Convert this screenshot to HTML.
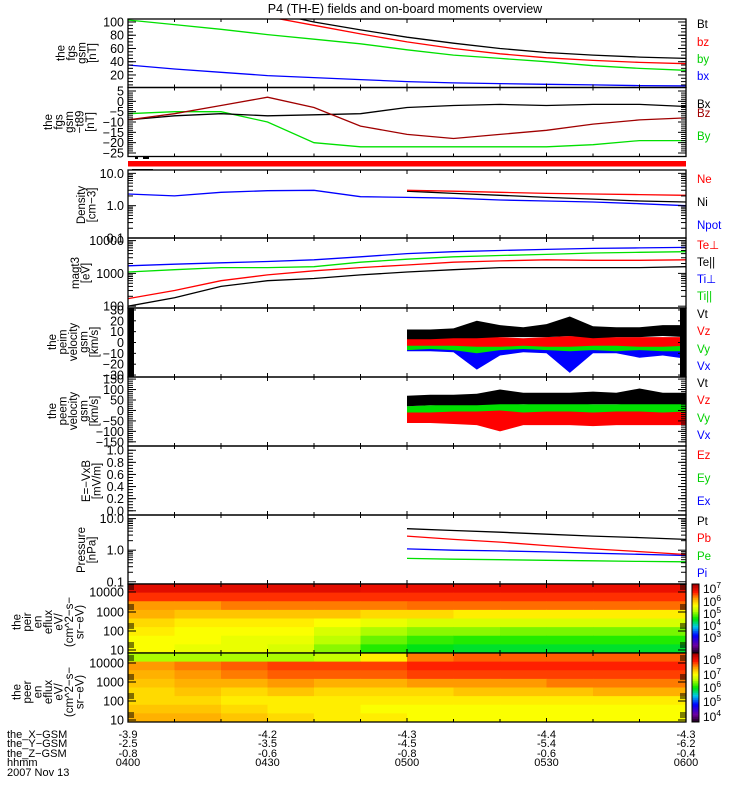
<!DOCTYPE html>
<html><head><meta charset="utf-8"><style>
html,body{margin:0;padding:0;background:#fff;}
svg{display:block;font-family:"Liberation Sans",sans-serif;}
</style></head><body>
<svg id="c" width="750" height="800" viewBox="0 0 750 800">
<rect width="750" height="800" fill="#fff"/>
<text x="405" y="13" font-size="12.5" text-anchor="middle">P4 (TH-E) fields and on-board moments overview</text>
</svg>
<script>
// ---------- data ----------
const times = [0,10,20,30,40,50,60,70,80,90,100,110,120];
const fgsBt = [170,150,130,115,100,88,77,68,60,54,50,47,45];
const fgsBz = [160,140,122,108,95,82,70,60,52,46,42,39,37];
const fgsBy = [103,96,89,81,74,67,58,50,45,40,34,30,27];
const fgsBx = [35,29,24,19,16,13,10,8,7,6,5,4,3.5];
const dBx = [-9,-7,-6,-7,-6.5,-6,-3,-2,-1.5,-2,-1.5,-1.5,-2.5];
const dBz = [-9,-6,-2,2,-3,-12,-16,-18,-16,-14,-11,-9,-8];
const dBy = [-6,-5,-5,-10,-20,-22,-22,-22,-22,-22,-21,-19,-19];
const Npot = [2.3,2.0,2.6,2.9,3.0,1.9,1.8,1.7,1.5,1.4,1.3,1.15,1.0];
const tLate = [60,70,80,90,100,110,120];
const Ne = [3.0,2.8,2.6,2.4,2.3,2.2,2.1];
const Ni = [2.8,2.4,2.1,1.8,1.6,1.4,1.3];
const TiPerp = [1700,1900,2100,2300,2600,3200,4000,4600,5000,5400,5800,6000,6200];
const TiPar = [1100,1300,1500,1500,1600,2200,2700,3200,3500,3800,4200,4400,4600];
const TePerp = [170,300,600,900,1200,1500,1800,2200,2400,2600,2500,2500,2600];
const TePar = [100,180,400,600,700,900,1100,1300,1500,1500,1500,1500,1600];
const tVel = [60,65,70,75,80,85,90,95,100,105,110,115,120];
const iVtLo = [3,3,4,4,5,5,5,6,4,5,5,6,5];
const iVtHi = [12,12,13,20,16,14,17,24,15,14,14,16,16];
const iVzLo = [-3,-3,-3,-4,-4,-3,-4,-4,-3,-3,-4,-4,-3];
const iVzHi = [4,4,5,6,5,4,5,6,5,5,5,5,5];
const iVyLo = [-7,-6,-7,-10,-7,-6,-7,-8,-7,-8,-7,-8,-8];
const iVyHi = [2,3,3,8,3,3,2,4,3,3,3,4,3];
const iVxLo = [-8,-8,-9,-25,-12,-9,-10,-28,-10,-10,-14,-12,-15];
const iVxHi = [2,2,2,3,2,2,2,3,2,2,2,2,2];
const eVtLo = [20,25,25,25,30,30,30,30,30,30,30,30,30];
const eVtHi = [70,75,75,80,100,85,85,85,90,85,105,85,85];
const eVyLo = [-40,-30,-30,-35,-30,-30,-40,-30,-30,-30,-30,-35,-40];
const eVyHi = [20,25,30,35,35,30,35,35,30,30,35,35,30];
const eVxLo = [-50,-45,-50,-50,-55,-50,-50,-50,-50,-55,-50,-55,-60];
const eVxHi = [10,15,15,20,20,15,20,20,20,15,20,20,20];
const eVzLo = [-60,-60,-65,-70,-100,-70,-70,-70,-75,-70,-70,-70,-70];
const eVzHi = [-10,-10,-5,-5,0,-10,-5,-5,-10,-5,-5,-10,-5];
const Pt = [4.8,4.2,3.7,3.2,2.8,2.5,2.2];
const Pb = [2.8,2.2,1.8,1.4,1.1,0.9,0.73];
const Pi = [1.1,1.0,0.95,0.88,0.8,0.74,0.68];
const Pe = [0.55,0.52,0.5,0.48,0.46,0.44,0.43];
const specTimes = [0,10,20,30,40,50,60,70,80,90,100,110];
const specRows = 8;
const ionFlux = [
 [6.9,6.9,6.9,6.9,6.9,6.85,6.85,6.85,6.85,6.85,6.85,6.85],
 [6.65,6.65,6.65,6.65,6.65,6.65,6.65,6.65,6.65,6.65,6.65,6.65],
 [6.3,6.3,6.4,6.4,6.4,6.4,6.45,6.45,6.45,6.45,6.45,6.45],
 [6.2,6.1,6.1,6.1,6.1,6.0,6.0,5.9,5.9,5.9,5.9,5.9],
 [6.0,5.9,5.9,5.9,5.8,5.7,5.6,5.6,5.6,5.6,5.6,5.6],
 [5.9,5.8,5.8,5.8,5.6,5.4,5.3,5.3,5.25,5.25,5.25,5.25],
 [5.8,5.8,5.7,5.7,5.45,5.2,5.05,5.0,5.0,5.0,5.0,5.0],
 [5.8,5.7,5.7,5.6,5.3,5.0,4.85,4.8,4.8,4.8,4.8,4.8]];
const eleFlux = [
 [6.4,6.4,6.4,6.4,6.5,6.9,7.4,7.5,7.5,7.5,7.5,7.5],
 [7.3,7.4,7.5,7.6,7.6,7.6,7.7,7.7,7.7,7.7,7.7,7.7],
 [7.2,7.3,7.4,7.5,7.5,7.5,7.6,7.6,7.6,7.6,7.6,7.6],
 [7.1,7.2,7.2,7.3,7.2,7.2,7.3,7.3,7.3,7.4,7.4,7.4],
 [7.0,7.1,7.0,7.1,7.0,7.0,7.0,7.1,7.1,7.1,7.2,7.2],
 [7.0,7.0,6.9,6.9,6.9,6.9,6.9,6.9,6.9,6.9,6.9,6.9],
 [7.1,7.1,7.0,6.9,6.9,6.8,6.8,6.8,6.8,6.8,6.8,6.8],
 [7.2,7.2,7.1,7.0,6.9,6.9,6.8,6.8,6.8,6.8,6.8,6.8]];
const posX = ["-3.9","-4.2","-4.3","-4.4","-4.3"];
const posY = ["-2.5","-3.5","-4.5","-5.4","-6.2"];
const posZ = ["-0.8","-0.6","-0.8","-0.6","-0.4"];
const hhmm = ["0400","0430","0500","0530","0600"];

// ---------- helpers ----------
const svg = document.getElementById('c');
const NS = 'http://www.w3.org/2000/svg';
const X0 = 128, X1 = 686;
const xs = t => X0 + t * (X1 - X0) / 120;
function mk(tag, attrs, parent) {
  const e = document.createElementNS(NS, tag);
  for (const k in attrs) e.setAttribute(k, attrs[k]);
  (parent || svg).appendChild(e);
  return e;
}
function linY(top, bot, vmin, vmax) { return v => bot - (v - vmin) / (vmax - vmin) * (bot - top); }
function logY(top, bot, vmin, vmax) { return v => bot - (Math.log10(v) - Math.log10(vmin)) / (Math.log10(vmax) - Math.log10(vmin)) * (bot - top); }
let clipId = 0;
function panelClip(top, bot) {
  const id = 'cl' + (clipId++);
  const cp = mk('clipPath', { id: id });
  mk('rect', { x: X0, y: top, width: X1 - X0, height: bot - top }, cp);
  return 'url(#' + id + ')';
}
function line(ts, vals, ys, color, clip, name) {
  const pts = ts.map((t, i) => xs(t).toFixed(1) + ',' + ys(vals[i]).toFixed(1)).join(' ');
  const e = mk('polyline', { points: pts, fill: 'none', stroke: color, 'stroke-width': 1.3, 'clip-path': clip });
  
  
}
function band(ts, lo, hi, ys, color, clip, name) {
  let pts = ts.map((t, i) => xs(t).toFixed(1) + ',' + ys(hi[i]).toFixed(1));
  pts = pts.concat(ts.map((t, i) => xs(t).toFixed(1) + ',' + ys(lo[i]).toFixed(1)).reverse());
  const e = mk('polygon', { points: pts.join(' '), fill: color, 'clip-path': clip });
  
  
}
function frame(top, bot, name) {
  const e = mk('rect', { x: X0, y: top, width: X1 - X0, height: bot - top, fill: 'none', stroke: '#000', 'stroke-width': 1.3 });
  
  
  for (let t = 10; t < 120; t += 10) {
    const len = (t % 30 === 0) ? 4 : 3;
    mk('line', { x1: xs(t), x2: xs(t), y1: top, y2: top + len, stroke: '#000' });
    mk('line', { x1: xs(t), x2: xs(t), y1: bot, y2: bot - len, stroke: '#000' });
  }
}
function ytick(y, label, major) {
  const l = major ? 8 : 5;
  mk('line', { x1: X0, x2: X0 + l, y1: y, y2: y, stroke: '#000' });
  mk('line', { x1: X1, x2: X1 - l, y1: y, y2: y, stroke: '#000' });
  if (label !== null) {
    const e = mk('text', { x: 124, y: y + 4.5, 'font-size': 12.5, 'text-anchor': 'end' });
    e.textContent = label;
    
    
  }
}
function linTicks(ys, majors, labels, minorStep, vmin, vmax) {
  majors.forEach((v, i) => ytick(ys(v), labels[i], true));
  for (let v = vmin; v <= vmax + 1e-9; v += minorStep) ytick(ys(v), null, false);
}
function logTicks(ys, dmin, dmax, labels) {
  for (let d = dmin; d <= dmax; d++) {
    ytick(ys(Math.pow(10, d)), labels[d - dmin], true);
    if (d < dmax) for (let m = 2; m < 10; m++) ytick(ys(m * Math.pow(10, d)), null, false);
  }
}
function ylabel(lines, cx, cy, name) {
  const g = mk('g', { transform: 'translate(' + cx + ',' + cy + ') rotate(-90)' });
  
  
  const n = lines.length;
  lines.forEach((s, i) => {
    const e = mk('text', { x: 0, y: (i - (n - 1) / 2) * 10.5 + 4, 'font-size': 11.5, 'text-anchor': 'middle' }, g);
    e.textContent = s;
  });
}
function rlabel(txt, y, color, name) {
  const e = mk('text', { x: 697, y: y + 4, 'font-size': 11.5, fill: color });
  e.textContent = txt;
  
  
}

// ---------- panel 1: fgs gsm ----------
(function () {
  const top = 19, bot = 87.5, ys = linY(top, bot, 1.1, 104.5), cl = panelClip(top, bot);
  line(times, fgsBx, ys, '#0000ff', cl, 'bx-line');
  line(times, fgsBy, ys, '#00e000', cl, 'by-line');
  line(times, fgsBz, ys, '#ff0000', cl, 'bz-line');
  line(times, fgsBt, ys, '#000', cl, 'bt-line');
  linTicks(ys, [20, 40, 60, 80, 100], ['20', '40', '60', '80', '100'], 5, 5, 100);
  frame(top, bot, 'fgs-gsm-panel');
  ylabel(['the', 'fgs', 'gsm', '[nT]'], 76, 53, 'fgs-y-axis-title');
  rlabel('Bt', 24, '#000', 'legend-bt'); rlabel('bz', 42, '#ff0000', 'legend-bz');
  rlabel('by', 59, '#00d000', 'legend-by'); rlabel('bx', 76, '#0000ff', 'legend-bx');
})();
// ---------- panel 2: fgs gsm - t89 ----------
(function () {
  const top = 87.5, bot = 156.5, ys = linY(top, bot, -26.7, 6.7), cl = panelClip(top, bot);
  line(times, dBy, ys, '#00e000', cl, 'dby-line');
  line(times, dBx, ys, '#000', cl, 'dbx-line');
  line(times, dBz, ys, '#a00000', cl, 'dbz-line');
  linTicks(ys, [5, 0, -5, -10, -15, -20, -25], ['5', '0', '−5', '−10', '−15', '−20', '−25'], 1, -25, 5);
  frame(top, bot, 'fgs-t89-panel');
  ylabel(['the', 'fgs', 'gsm', '−t89', '[nT]'], 69, 122, 'fgs-t89-y-axis-title');
  rlabel('Bx', 104, '#000', 'legend-dbx'); rlabel('Bz', 113, '#a00000', 'legend-dbz');
  rlabel('By', 136, '#00d000', 'legend-dby');
})();
// mode bar
(function () {
  const e = mk('rect', { x: X0, y: 161, width: X1 - X0, height: 5.5, fill: '#ff0000' });
   
  mk('rect', { x: 135, y: 157, width: 3, height: 2, fill: '#000' });
  mk('rect', { x: 143, y: 157, width: 6, height: 2, fill: '#000' });
  mk('rect', { x: 132, y: 169, width: 21, height: 1.5, fill: '#000' });
})();
// ---------- panel 3: density ----------
(function () {
  const top = 170, bot = 238, ys = logY(top, bot, 0.1, 12.7), cl = panelClip(top, bot);
  line(times, Npot, ys, '#0000ff', cl, 'npot-line');
  line(tLate, Ni, ys, '#000', cl, 'ni-line');
  line(tLate, Ne, ys, '#ff0000', cl, 'ne-line');
  logTicks(ys, -1, 1, ['0.1', '1.0', '10.0']);
  frame(top, bot, 'density-panel');
  ylabel(['Density', '[cm−3]'], 86, 205, 'density-y-axis-title');
  rlabel('Ne', 179, '#ff0000', 'legend-ne'); rlabel('Ni', 202, '#000', 'legend-ni');
  rlabel('Npot', 225, '#0000ff', 'legend-npot');
})();
// ---------- panel 4: temperature ----------
(function () {
  const top = 238, bot = 308, ys = logY(top, bot, 88, 12000), cl = panelClip(top, bot);
  line(times, TePar, ys, '#000', cl, 'te-par-line');
  line(times, TePerp, ys, '#ff0000', cl, 'te-perp-line');
  line(times, TiPar, ys, '#00e000', cl, 'ti-par-line');
  line(times, TiPerp, ys, '#0000ff', cl, 'ti-perp-line');
  logTicks(ys, 2, 4, ['100', '1000', '10000']);
  frame(top, bot, 'temperature-panel');
  ylabel(['magt3', '[eV]'], 80, 273, 'temperature-y-axis-title');
  rlabel('Te⊥', 245, '#ff0000', 'legend-te-perp'); rlabel('Te||', 262, '#000', 'legend-te-par');
  rlabel('Ti⊥', 279, '#0000ff', 'legend-ti-perp'); rlabel('Ti||', 296, '#00d000', 'legend-ti-par');
})();
// ---------- panel 5: peim velocity ----------
(function () {
  const top = 308, bot = 377, ys = linY(top, bot, -31.8, 31.8), cl = panelClip(top, bot);
  band(tVel, iVxLo, iVxHi, ys, '#0000ff', cl, 'ion-vx-band');
  band(tVel, iVyLo, iVyHi, ys, '#00e000', cl, 'ion-vy-band');
  band(tVel, iVzLo, iVzHi, ys, '#ff0000', cl, 'ion-vz-band');
  band(tVel, iVtLo, iVtHi, ys, '#000', cl, 'ion-vt-band');
  mk('rect', { x: X0, y: top, width: 6, height: bot - top, fill: '#000' });
  mk('rect', { x: X1 - 6, y: top, width: 6, height: bot - top, fill: '#000' });
  linTicks(ys, [30, 20, 10, 0, -10, -20, -30], ['30', '20', '10', '0', '−10', '−20', '−30'], 2, -30, 30);
  frame(top, bot, 'ion-velocity-panel');
  ylabel(['the', 'peim', 'velocity', 'gsm', '[km/s]'], 73, 342, 'ion-velocity-y-axis-title');
  rlabel('Vt', 314, '#000', 'legend-ion-vt'); rlabel('Vz', 331, '#ff0000', 'legend-ion-vz');
  rlabel('Vy', 349, '#00d000', 'legend-ion-vy'); rlabel('Vx', 366, '#0000ff', 'legend-ion-vx');
})();
// ---------- panel 6: peem velocity ----------
(function () {
  const top = 377, bot = 446, ys = linY(top, bot, -170, 160), cl = panelClip(top, bot);
  band(tVel, eVxLo, eVxHi, ys, '#0000ff', cl, 'ele-vx-band');
  band(tVel, eVyLo, eVyHi, ys, '#00e000', cl, 'ele-vy-band');
  band(tVel, eVzLo, eVzHi, ys, '#ff0000', cl, 'ele-vz-band');
  band(tVel, eVtLo, eVtHi, ys, '#000', cl, 'ele-vt-band');
  linTicks(ys, [150, 100, 50, 0, -50, -100, -150], ['150', '100', '50', '0', '−50', '−100', '−150'], 10, -150, 150);
  frame(top, bot, 'electron-velocity-panel');
  ylabel(['the', 'peem', 'velocity', 'gsm', '[km/s]'], 73, 411, 'electron-velocity-y-axis-title');
  rlabel('Vt', 383, '#000', 'legend-ele-vt'); rlabel('Vz', 400, '#ff0000', 'legend-ele-vz');
  rlabel('Vy', 418, '#00d000', 'legend-ele-vy'); rlabel('Vx', 435, '#0000ff', 'legend-ele-vx');
})();
// ---------- panel 7: E = -VxB ----------
(function () {
  const top = 446, bot = 515, ys = linY(top, bot, -0.07, 1.07);
  linTicks(ys, [0, 0.2, 0.4, 0.6, 0.8, 1.0], ['0.0', '0.2', '0.4', '0.6', '0.8', '1.0'], 0.05, 0, 1);
  frame(top, bot, 'efield-panel');
  ylabel(['E=−VxB', '[mV/m]'], 91, 481, 'efield-y-axis-title');
  rlabel('Ez', 455, '#ff0000', 'legend-ez'); rlabel('Ey', 478, '#00d000', 'legend-ey');
  rlabel('Ex', 501, '#0000ff', 'legend-ex');
})();
// ---------- panel 8: pressure ----------
(function () {
  const top = 515, bot = 584, ys = logY(top, bot, 0.085, 13), cl = panelClip(top, bot);
  line(tLate, Pe, ys, '#00e000', cl, 'pe-line');
  line(tLate, Pi, ys, '#0000ff', cl, 'pi-line');
  line(tLate, Pb, ys, '#ff0000', cl, 'pb-line');
  line(tLate, Pt, ys, '#000', cl, 'pt-line');
  logTicks(ys, -1, 1, ['0.1', '1.0', '10.0']);
  frame(top, bot, 'pressure-panel');
  ylabel(['Pressure', '[nPa]'], 86, 550, 'pressure-y-axis-title');
  rlabel('Pt', 521, '#000', 'legend-pt'); rlabel('Pb', 538, '#ff0000', 'legend-pb');
  rlabel('Pe', 556, '#00d000', 'legend-pe'); rlabel('Pi', 573, '#0000ff', 'legend-pi');
})();
// ---------- spectrograms ----------
const stops = [[0,[30,0,30]],[0.1,[110,0,160]],[0.25,[0,0,255]],[0.38,[0,200,235]],[0.5,[0,230,0]],[0.62,[190,255,0]],[0.7,[255,255,0]],[0.8,[255,160,0]],[0.9,[255,20,0]],[1,[170,0,0]]];
function cmap(f) {
  f = Math.max(0, Math.min(1, f));
  for (let i = 1; i < stops.length; i++) {
    if (f <= stops[i][0]) {
      const a = stops[i - 1], b = stops[i], u = (f - a[0]) / (b[0] - a[0]);
      const c = a[1].map((v, k) => Math.round(v + (b[1][k] - v) * u));
      return 'rgb(' + c.join(',') + ')';
    }
  }
  return 'rgb(170,0,0)';
}
function spectro(top, bot, grid, zmin, zmax, name, cbLabels, cbYs, eTicksY) {
  const g = mk('g', {});
  
  
  const rh = (bot - top) / specRows;
  grid.forEach((row, r) => row.forEach((v, c) => {
    const x0 = xs(specTimes[c]), x1 = c + 1 < specTimes.length ? xs(specTimes[c + 1]) : X1;
    const cell = mk('rect', { x: x0, y: top + r * rh, width: x1 - x0 + 0.5, height: rh + 0.5, fill: cmap((v - zmin) / (zmax - zmin)) }, g);
    
    
  }));
  eTicksY.forEach((y, i) => {
    ytick(y, ['10000', '1000', '100', '10'][i], true);
    [-7, -5, -3].forEach(d => { mk('line', { x1: X0, x2: X0 + 6, y1: y + d, y2: y + d, stroke: '#000' }); mk('line', { x1: X1, x2: X1 - 6, y1: y + d, y2: y + d, stroke: '#000' }); });
  });
  frame(top, bot, name + '-frame');
  const cb = mk('g', {});
  
  
  for (let i = 0; i < 40; i++) {
    const y = bot - (i + 1) * (bot - top) / 40;
    mk('rect', { x: 692, y: y, width: 7, height: (bot - top) / 40 + 0.4, fill: cmap(i / 39) }, cb);
  }
  mk('rect', { x: 692, y: top, width: 7, height: bot - top, fill: 'none', stroke: '#000' }, cb);
  cbLabels.forEach((p, i) => {
    const t = mk('text', { x: 703, y: cbYs[i] + 4, 'font-size': 12 }, cb);
    t.textContent = '10';
    const s = mk('tspan', { dy: -5, 'font-size': 8.5 }, t);
    s.textContent = p;
  });
}
spectro(584, 653, ionFlux, 2.6, 7.2, 'ion-energy-spectrogram', ['7', '6', '5', '4', '3'], [589, 602, 614, 626, 638], [592, 612, 631, 650]);
spectro(653, 722, eleFlux, 3.6, 8.2, 'electron-energy-spectrogram', ['8', '7', '6', '5', '4'], [660, 675, 688, 702, 717], [663, 682, 701, 720]);
ylabel(['the', 'peir', 'en', 'eflux', 'eV/', '(cm^2−s−', 'sr−eV)'], 48, 622, 'ion-spectrogram-y-axis-title');
ylabel(['the', 'peer', 'en', 'eflux', 'eV/', '(cm^2−s−', 'sr−eV)'], 48, 692, 'electron-spectrogram-y-axis-title');

// ---------- bottom annotations ----------
const rowsTxt = [['the_X−GSM', posX, 734], ['the_Y−GSM', posY, 743], ['the_Z−GSM', posZ, 753], ['hhmm', hhmm, 762]];
rowsTxt.forEach(r => {
  const l = mk('text', { x: 7, y: r[2] + 4, 'font-size': 11 });
  l.textContent = r[0];
   
  r[1].forEach((v, i) => {
    const t = mk('text', { x: xs(i * 30), y: r[2] + 4, 'font-size': 11, 'text-anchor': 'middle' });
    t.textContent = v;
     
  });
});
(function () {
  const d = mk('text', { x: 7, y: 776, 'font-size': 11 });
  d.textContent = '2007 Nov 13';
   
})();
</script>
</body></html>
